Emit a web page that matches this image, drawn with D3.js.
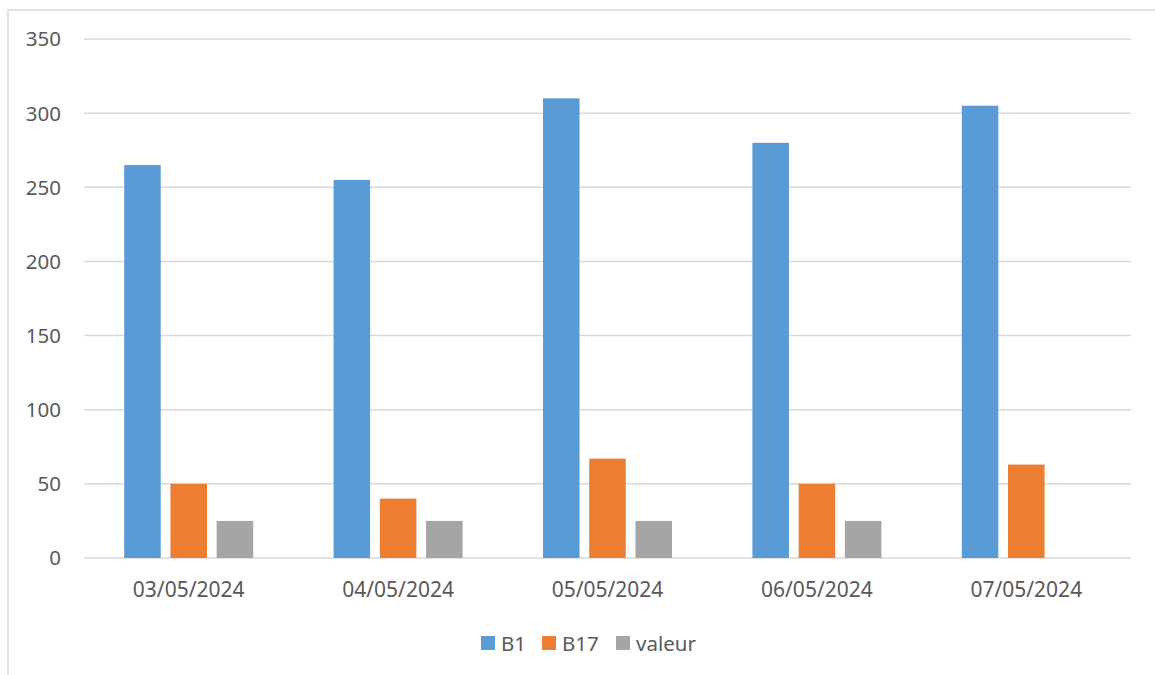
<!DOCTYPE html>
<html>
<head>
<meta charset="utf-8">
<script src="https://cdn.jsdelivr.net/npm/d3@7"></script>
<style>
  body { margin: 0; background: #fff; }
  text { font-family: "Noto Sans", "Open Sans", sans-serif; fill: #595959; }
</style>
</head>
<body>
<div id="chart"></div>
<script>
// chart data
const dates = ["03/05/2024", "04/05/2024", "05/05/2024", "06/05/2024", "07/05/2024"];
const seriesNames = ["B1", "B17", "valeur"];
const b1 = [265, 255, 310, 280, 305];
const b17 = [50, 40, 67, 50, 63];
const valeur = [25, 25, 25, 25, 0];
const yTicks = [0, 50, 100, 150, 200, 250, 300, 350];
const colours = ["#5b9bd5", "#ed7d31", "#a5a5a5"];

const width = 1155, height = 675;
const plotLeft = 84, plotRight = 1131, plotTop = 39, plotBottom = 558;

const svg = d3.select("#chart")
  .append("svg")
  .attr("width", width)
  .attr("height", height);

// outer chart border (runs off the right and bottom edges)
svg.append("rect")
  .attr("x", 8)
  .attr("y", 10)
  .attr("width", 1200)
  .attr("height", 700)
  .attr("fill", "none")
  .attr("stroke", "#d9d9d9")
  .attr("stroke-width", 1.5);

const y = d3.scaleLinear().domain([0, 350]).range([plotBottom, plotTop]);

const x0 = d3.scaleBand()
  .domain(dates)
  .range([plotLeft, plotRight])
  .paddingInner(0.384)
  .paddingOuter(0.192);

const x1 = d3.scaleBand()
  .domain(seriesNames)
  .range([0, x0.bandwidth()])
  .paddingInner(0.21);

// gridlines
svg.append("g")
  .selectAll("line")
  .data(yTicks)
  .enter()
  .append("line")
  .attr("x1", plotLeft)
  .attr("x2", plotRight)
  .attr("y1", d => y(d))
  .attr("y2", d => y(d))
  .attr("stroke", "#d9d9d9")
  .attr("stroke-width", 1.5);

// y labels
svg.append("g")
  .selectAll("text")
  .data(yTicks)
  .enter()
  .append("text")
  .attr("x", 61)
  .attr("y", d => y(d))
  .attr("dy", "0.36em")
  .attr("text-anchor", "end")
  .attr("font-size", "20.5px")
  .text(d => d);

const rows = dates.map((d, i) => ({date: d, values: [b1[i], b17[i], valeur[i]]}));

const groups = svg.append("g")
  .selectAll("g")
  .data(rows)
  .enter()
  .append("g")
  .attr("transform", d => "translate(" + x0(d.date) + ",0)");

groups.selectAll("rect")
  .data(d => d.values.map((v, j) => ({name: seriesNames[j], value: v, c: colours[j]})))
  .enter()
  .append("rect")
  .attr("x", d => x1(d.name))
  .attr("width", x1.bandwidth())
  .attr("y", d => y(d.value))
  .attr("height", d => plotBottom - y(d.value))
  .attr("fill", d => d.c);

// x labels
svg.append("g")
  .selectAll("text")
  .data(dates)
  .enter()
  .append("text")
  .attr("x", d => x0(d) + x0.bandwidth() / 2)
  .attr("y", 597)
  .attr("text-anchor", "middle")
  .attr("font-size", "21px")
  .text(d => d);

// legend
const legendX = [481, 542, 616];
const legend = svg.append("g")
  .selectAll("g")
  .data(seriesNames)
  .enter()
  .append("g")
  .attr("transform", (d, i) => "translate(" + legendX[i] + ",636)");

legend.append("rect")
  .attr("width", 14)
  .attr("height", 14)
  .attr("fill", (d, i) => colours[i]);

legend.append("text")
  .attr("x", 20)
  .attr("y", 15)
  .attr("font-size", "20.5px")
  .text(d => d);
</script>
</body>
</html>
